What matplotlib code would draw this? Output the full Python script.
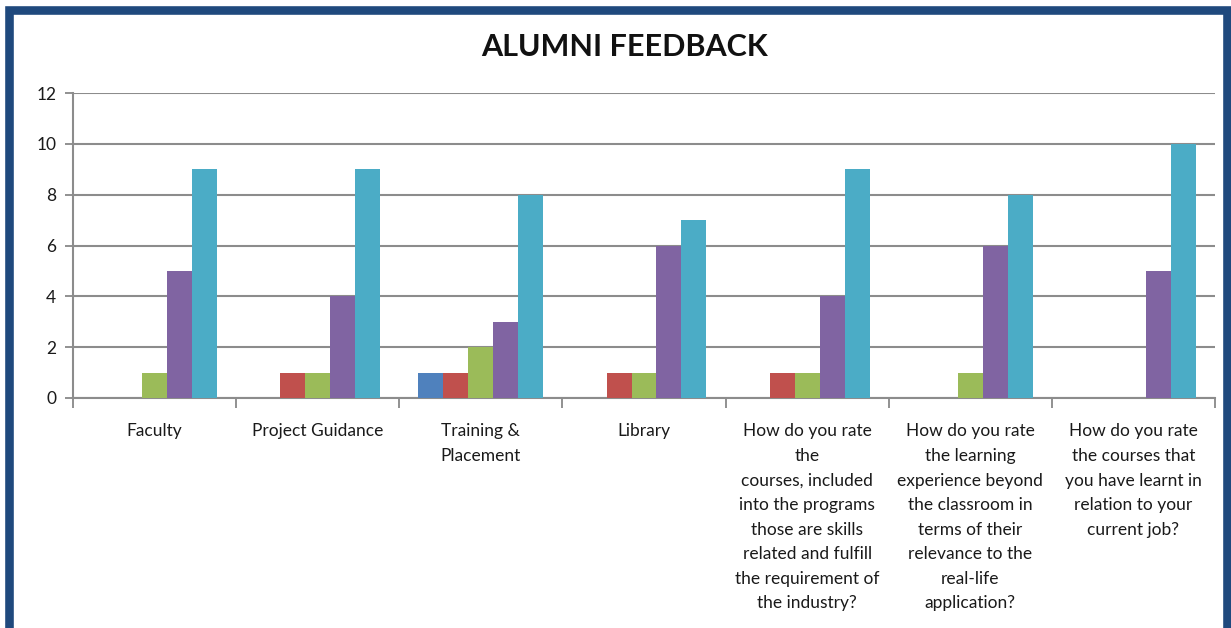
import numpy as np
import matplotlib.pyplot as plt
from matplotlib.patches import Rectangle

plt.rcParams['font.family'] = ['Lato', 'DejaVu Sans']

categories = [
    "Faculty",
    "Project Guidance",
    "Training &\nPlacement",
    "Library",
    "How do you rate\nthe\ncourses, included\ninto the programs\nthose are skills\nrelated and fulfill\nthe requirement of\nthe industry?",
    "How do you rate\nthe learning\nexperience beyond\nthe classroom in\nterms of their\nrelevance to the\nreal-life\napplication?",
    "How do you rate\nthe courses that\nyou have learnt in\nrelation to your\ncurrent job?",
]

series_1 = [0, 0, 1, 0, 0, 0, 0]
series_2 = [0, 1, 1, 1, 1, 0, 0]
series_3 = [1, 1, 2, 1, 1, 1, 0]
series_4 = [5, 4, 3, 6, 4, 6, 5]
series_5 = [9, 9, 8, 7, 9, 8, 10]

colors = ["#4F81BD", "#C0504D", "#9BBB59", "#8064A2", "#4BACC6"]
all_series = [series_1, series_2, series_3, series_4, series_5]

fig = plt.figure(figsize=(12.31, 6.28), dpi=100)
ax = fig.add_axes([73 / 1231, 1 - 398 / 628, (1215 - 73) / 1231, (398 - 93) / 628])

x = np.arange(len(categories))
bar_w = 0.153
for i, (vals, c) in enumerate(zip(all_series, colors)):
    ax.bar(x + (i - 2) * bar_w, vals, width=bar_w, color=c, zorder=3)

ax.set_xlim(-0.5, len(categories) - 0.5)
ax.set_ylim(0, 12)
ax.set_yticks(range(0, 13, 2))
ax.tick_params(axis='y', labelsize=12.5, length=6, color="#888888", width=1.3,
               pad=6, labelcolor="#1a1a1a")
ax.grid(axis='y', color="#8c8c8c", linewidth=1.5, zorder=0)

# category labels under the axis, ticks sit on the category boundaries
ax.set_xticks(np.arange(len(categories) + 1) - 0.5)
ax.set_xticklabels([])
ax.tick_params(axis='x', length=7, color="#888888", width=1.3)
for xi, label in zip(x, categories):
    ax.text(xi, -1.0, label, ha='center', va='top', fontsize=12.5,
            linespacing=1.66, color="#1a1a1a")

for side in ['top', 'right']:
    ax.spines[side].set_visible(False)
for side in ['left', 'bottom']:
    ax.spines[side].set_color("#8c8c8c")
    ax.spines[side].set_linewidth(1.5)

fig.text(625 / 1231, 1 - 47 / 628, "ALUMNI FEEDBACK", ha='center', va='center',
         fontsize=22, fontweight='bold', color="#111111")

# dark blue frame round the whole chart
fig.patches.append(Rectangle((9 / 1231, -0.1), (1227 - 9) / 1231, 1.1 - 10 / 628,
                             transform=fig.transFigure, fill=False,
                             edgecolor="#1F497D", linewidth=6.2))

fig.savefig("out.png", dpi=100)
